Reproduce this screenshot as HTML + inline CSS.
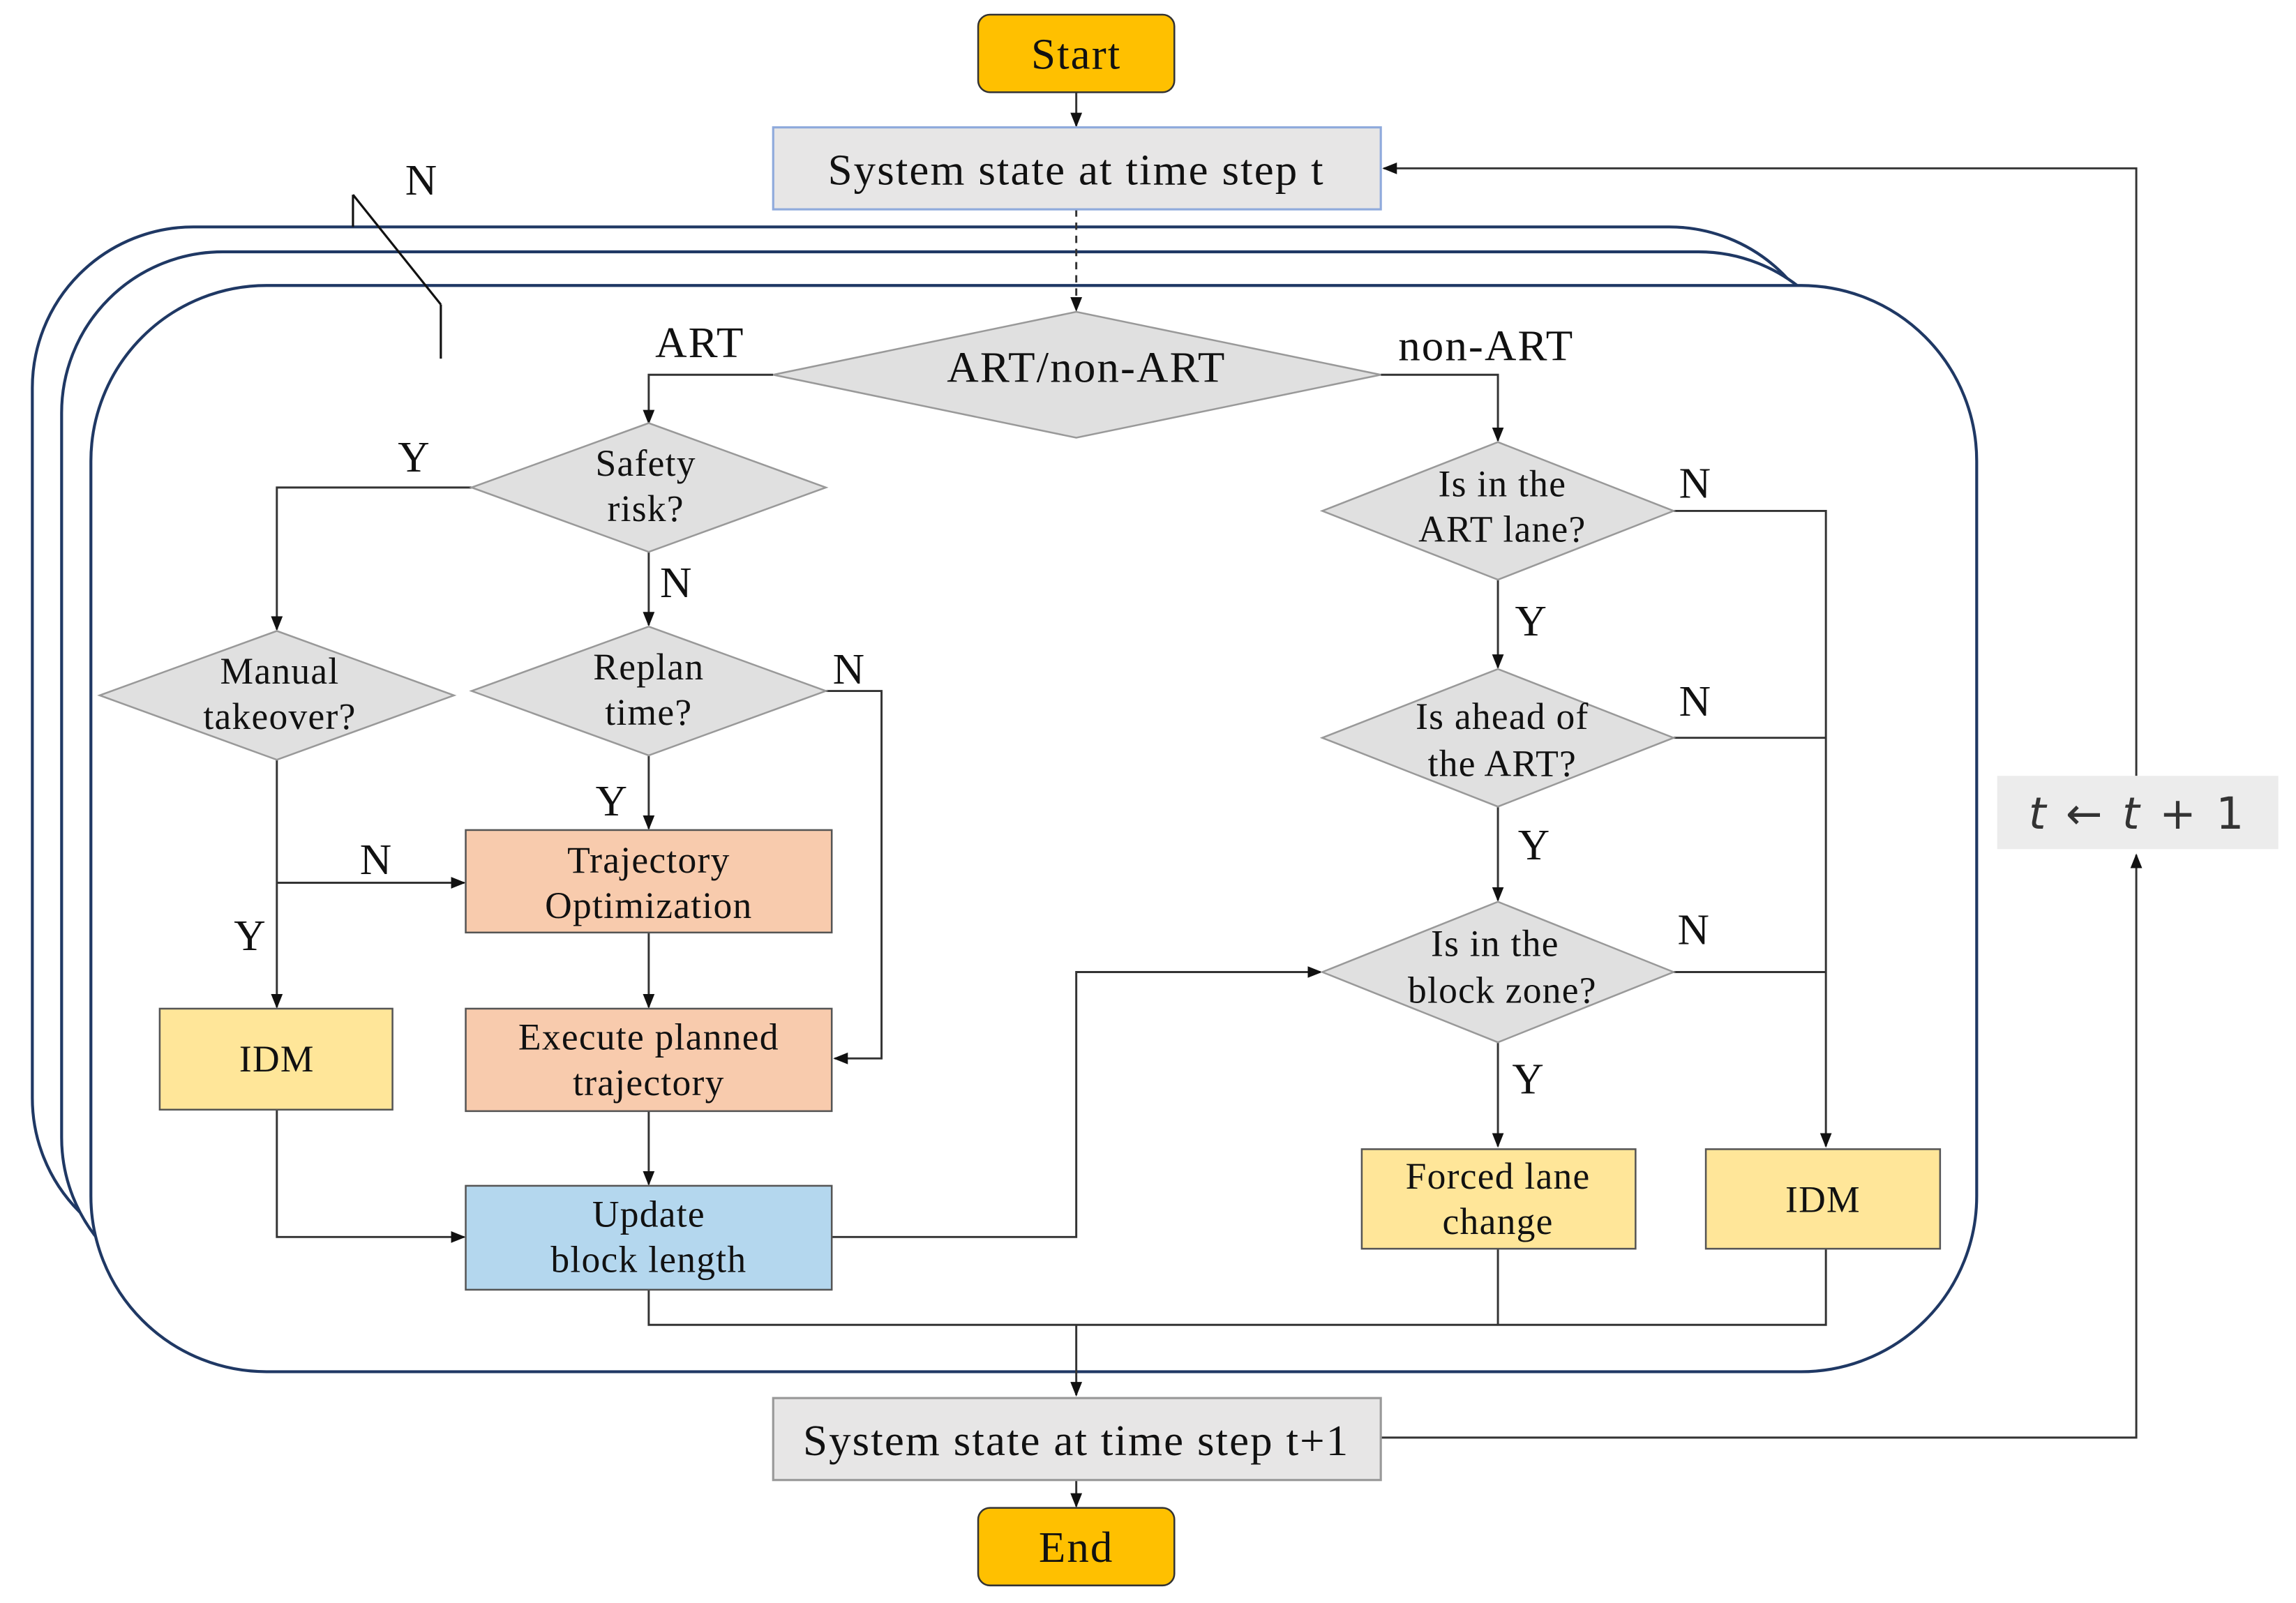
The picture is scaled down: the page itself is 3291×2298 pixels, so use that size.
<!DOCTYPE html>
<html><head><meta charset="utf-8"><style>
html,body{margin:0;padding:0;background:#fff;}
svg{display:block;}
text{font-family:"Liberation Serif",serif;fill:#111;}
.b{font-size:30px;letter-spacing:1px;}
.m{font-size:25.5px;letter-spacing:0.6px;}
</style></head><body>
<svg width="3291" height="2298" viewBox="0 0 1568 1095" xmlns="http://www.w3.org/2000/svg">
<defs>
<marker id="a" markerWidth="10" markerHeight="10" refX="9" refY="5" orient="auto" markerUnits="userSpaceOnUse">
<path d="M0,1 L10,5 L0,9 z" fill="#111"/></marker>
</defs>
<rect width="1568" height="1095" fill="#fff"/>
<rect x="22" y="155" width="1228" height="705" rx="110" fill="#fff" stroke="#1f3864" stroke-width="2"/>
<rect x="42" y="172" width="1228" height="715" rx="110" fill="#fff" stroke="#1f3864" stroke-width="2"/>
<rect x="62" y="195" width="1288" height="742" rx="120" fill="#fff" stroke="#1f3864" stroke-width="2"/>
<g stroke="#111" stroke-width="1.5" fill="none">
<line x1="241" y1="133" x2="301" y2="208"/>
<line x1="241" y1="133" x2="241" y2="155"/>
<line x1="301" y1="208" x2="301" y2="245"/>
</g>
<text x="288" y="133" class="b" text-anchor="middle">N</text>

<g stroke="#333" stroke-width="1.4" fill="none">
<line x1="735" y1="63" x2="735" y2="86" marker-end="url(#a)"/>
<line x1="735" y1="143" x2="735" y2="212" stroke-dasharray="5,4" marker-end="url(#a)"/>
<polyline points="528,256 443,256 443,289" marker-end="url(#a)"/>
<polyline points="943,256 1023,256 1023,301" marker-end="url(#a)"/>
<polyline points="322,333 189,333 189,430" marker-end="url(#a)"/>
<line x1="443" y1="377" x2="443" y2="427" marker-end="url(#a)"/>
<polyline points="563,472 602,472 602,723 570,723" marker-end="url(#a)"/>
<line x1="443" y1="516" x2="443" y2="566" marker-end="url(#a)"/>
<line x1="443" y1="637" x2="443" y2="688" marker-end="url(#a)"/>
<line x1="443" y1="759" x2="443" y2="809" marker-end="url(#a)"/>
<line x1="189" y1="519" x2="189" y2="688" marker-end="url(#a)"/>
<line x1="189" y1="603" x2="317" y2="603" marker-end="url(#a)"/>
<polyline points="189,758 189,845 317,845" marker-end="url(#a)"/>
<polyline points="568,845 735,845 735,664 902,664" marker-end="url(#a)"/>
<polyline points="1143,349 1247,349 1247,783" marker-end="url(#a)"/>
<line x1="1023" y1="396" x2="1023" y2="456" marker-end="url(#a)"/>
<line x1="1143" y1="504" x2="1247" y2="504"/>
<line x1="1023" y1="551" x2="1023" y2="615" marker-end="url(#a)"/>
<line x1="1143" y1="664" x2="1247" y2="664"/>
<line x1="1023" y1="712" x2="1023" y2="783" marker-end="url(#a)"/>
<polyline points="443,881 443,905 1247,905 1247,853"/>
<line x1="1023" y1="853" x2="1023" y2="905"/>
<line x1="735" y1="905" x2="735" y2="953" marker-end="url(#a)"/>
<line x1="735" y1="1011" x2="735" y2="1029" marker-end="url(#a)"/>
<polyline points="943,982 1459,982 1459,584" marker-end="url(#a)"/>
<polyline points="1459,530 1459,115 945,115" marker-end="url(#a)"/>
</g>

<rect x="668" y="10" width="134" height="53" rx="8" fill="#ffc000" stroke="#333" stroke-width="1.2"/>
<text x="735" y="47" class="b" text-anchor="middle">Start</text>
<rect x="528" y="87" width="415" height="56" fill="#e7e6e6" stroke="#8faadc" stroke-width="1.5"/>
<text x="735" y="126" class="b" text-anchor="middle">System state at time step t</text>
<rect x="528" y="955" width="415" height="56" fill="#e7e6e6" stroke="#999" stroke-width="1.5"/>
<text x="735" y="994" class="b" text-anchor="middle">System state at time step t+1</text>
<rect x="668" y="1030" width="134" height="53" rx="8" fill="#ffc000" stroke="#333" stroke-width="1.2"/>
<text x="735" y="1067" class="b" text-anchor="middle">End</text>

<g fill="#e0e0e0" stroke="#999" stroke-width="1.2">
<polygon points="528,256 735,213 943,256 735,299"/>
<polygon points="322,333 443,289 564,333 443,377"/>
<polygon points="68,475 189,431 310,475 189,519"/>
<polygon points="322,472 443,428 564,472 443,516"/>
<polygon points="903,349 1023,302 1143,349 1023,396"/>
<polygon points="903,504 1023,457 1143,504 1023,551"/>
<polygon points="903,664 1023,616 1143,664 1023,712"/>
</g>
<text x="742" y="261" class="b" text-anchor="middle">ART/non-ART</text>
<text x="441" y="325" class="m" text-anchor="middle">Safety</text>
<text x="441" y="356" class="m" text-anchor="middle">risk?</text>
<text x="191" y="467" class="m" text-anchor="middle">Manual</text>
<text x="191" y="498" class="m" text-anchor="middle">takeover?</text>
<text x="443" y="464" class="m" text-anchor="middle">Replan</text>
<text x="443" y="495" class="m" text-anchor="middle">time?</text>
<text x="1026" y="339" class="m" text-anchor="middle">Is in the</text>
<text x="1026" y="370" class="m" text-anchor="middle">ART lane?</text>
<text x="1026" y="498" class="m" text-anchor="middle">Is ahead of</text>
<text x="1026" y="530" class="m" text-anchor="middle">the ART?</text>
<text x="1021" y="653" class="m" text-anchor="middle">Is in the</text>
<text x="1026" y="685" class="m" text-anchor="middle">block zone?</text>

<g stroke="#555" stroke-width="1.2">
<rect x="318" y="567" width="250" height="70" fill="#f8cbad"/>
<rect x="318" y="689" width="250" height="70" fill="#f8cbad"/>
<rect x="318" y="810" width="250" height="71" fill="#b4d7ee"/>
<rect x="109" y="689" width="159" height="69" fill="#ffe699"/>
<rect x="930" y="785" width="187" height="68" fill="#ffe699"/>
<rect x="1165" y="785" width="160" height="68" fill="#ffe699"/>
</g>
<text x="443" y="596" class="m" text-anchor="middle">Trajectory</text>
<text x="443" y="627" class="m" text-anchor="middle">Optimization</text>
<text x="443" y="717" class="m" text-anchor="middle">Execute planned</text>
<text x="443" y="748" class="m" text-anchor="middle">trajectory</text>
<text x="443" y="838" class="m" text-anchor="middle">Update</text>
<text x="443" y="869" class="m" text-anchor="middle">block length</text>
<text x="189" y="732" class="m" text-anchor="middle">IDM</text>
<text x="1023" y="812" class="m" text-anchor="middle">Forced lane</text>
<text x="1023" y="843" class="m" text-anchor="middle">change</text>
<text x="1245" y="828" class="m" text-anchor="middle">IDM</text>

<g class="b">
<text x="478" y="244" text-anchor="middle">ART</text>
<text x="1015" y="246" text-anchor="middle">non-ART</text>
<text x="283" y="322" text-anchor="middle">Y</text>
<text x="462" y="408" text-anchor="middle">N</text>
<text x="580" y="467" text-anchor="middle">N</text>
<text x="418" y="557" text-anchor="middle">Y</text>
<text x="257" y="597" text-anchor="middle">N</text>
<text x="171" y="649" text-anchor="middle">Y</text>
<text x="1158" y="340" text-anchor="middle">N</text>
<text x="1046" y="434" text-anchor="middle">Y</text>
<text x="1158" y="489" text-anchor="middle">N</text>
<text x="1048" y="587" text-anchor="middle">Y</text>
<text x="1157" y="645" text-anchor="middle">N</text>
<text x="1044" y="747" text-anchor="middle">Y</text>
</g>
<rect x="1364" y="530" width="192" height="50" fill="#ececec"/>
<text x="1460" y="566" font-size="30" text-anchor="middle" letter-spacing="2" style="font-family:'DejaVu Sans',sans-serif;fill:#333"><tspan font-style="italic">t</tspan> ← <tspan font-style="italic">t</tspan> + 1</text>
</svg>
</body></html>
